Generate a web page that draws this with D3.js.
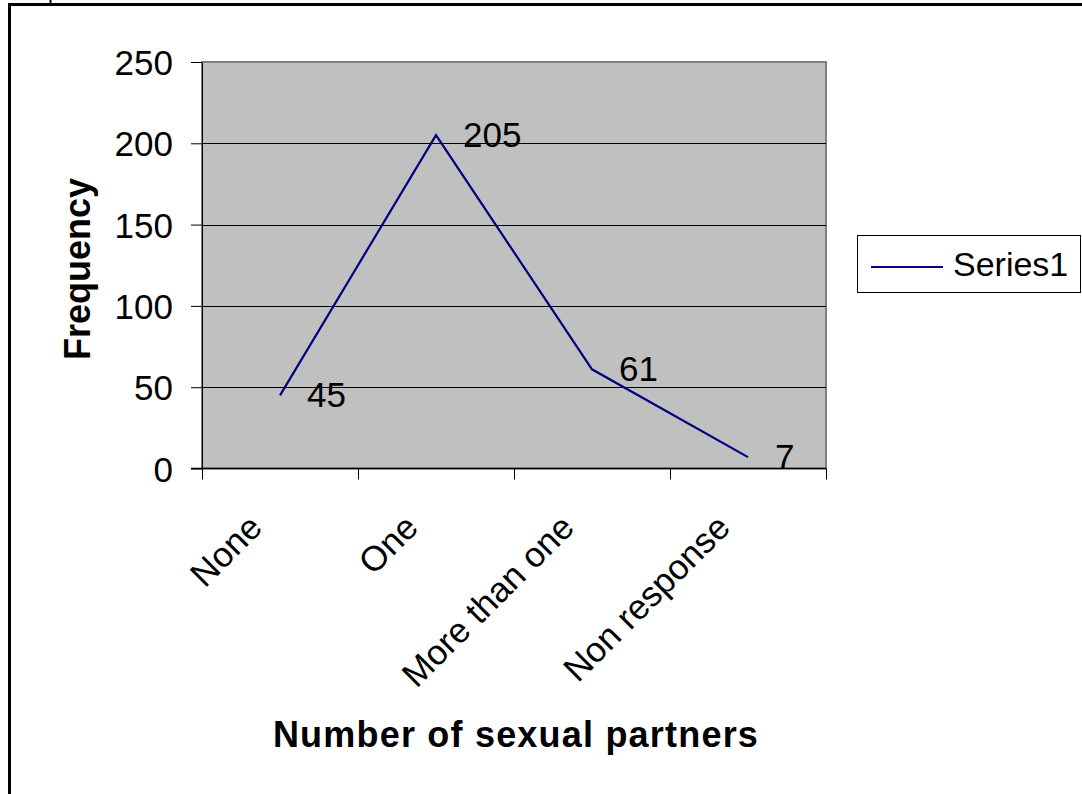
<!DOCTYPE html>
<html>
<head>
<meta charset="utf-8">
<script src="https://cdn.jsdelivr.net/npm/d3@7"></script>
<style>
  html, body { margin: 0; padding: 0; background: #fff; }
  svg { display: block; }
  text { font-family: "Liberation Sans", Arial, sans-serif; fill: #000; }
</style>
</head>
<body>
<svg id="chart" width="1082" height="794"></svg>
<script>
// Number of sexual partners reported by respondents
const categories = ["None", "One", "More than one", "Non response"];
const frequency = [45, 205, 61, 7];
const yTicks = [0, 50, 100, 150, 200, 250];
const seriesName = "Series1";
const xTitle = "Number of sexual partners";
const yTitle = "Frequency";

const svg = d3.select("#chart");

// Plot rectangle
const plot = { left: 202, right: 826, top: 62, bottom: 468.5 };

const x = d3.scaleBand().domain(categories).range([plot.left, plot.right]).padding(0);
const y = d3.scaleLinear().domain([0, 250]).range([plot.bottom, plot.top]);

// Outer chart frame (top and left edges)
svg.append("line").attr("x1", 8).attr("x2", 1082).attr("y1", 4.5).attr("y2", 4.5)
  .attr("stroke", "#000").attr("stroke-width", 3);
svg.append("line").attr("x1", 9.5).attr("x2", 9.5).attr("y1", 3).attr("y2", 794)
  .attr("stroke", "#000").attr("stroke-width", 3);
svg.append("line").attr("x1", 50.5).attr("x2", 50.5).attr("y1", 0).attr("y2", 4)
  .attr("stroke", "#000").attr("stroke-width", 2);

// Plot area background
svg.append("rect")
  .attr("x", plot.left).attr("y", plot.top)
  .attr("width", plot.right - plot.left).attr("height", plot.bottom - plot.top)
  .attr("fill", "#c0c0c0").attr("stroke", "#808080").attr("stroke-width", 2);

// Horizontal gridlines
svg.append("g").selectAll("line")
  .data(yTicks.filter(d => d > 0 && d < 250))
  .join("line")
  .attr("x1", plot.left).attr("x2", plot.right)
  .attr("y1", d => Math.round(y(d)) + 0.5).attr("y2", d => Math.round(y(d)) + 0.5)
  .attr("stroke", "#000").attr("stroke-width", 1);

// Y axis
const yAxis = svg.append("g")
  .attr("transform", `translate(${plot.left},0)`)
  .call(d3.axisLeft(y).tickValues(yTicks).tickSize(11).tickPadding(18).tickSizeOuter(0));
yAxis.select(".domain").attr("stroke", "#000");
yAxis.selectAll(".tick line").attr("stroke", "#000");
yAxis.selectAll(".tick text")
  .style("font-family", '"Liberation Sans", Arial, sans-serif')
  .style("font-size", "35px").attr("fill", "#000").attr("dy", "0.36em");

// X axis baseline with ticks at category boundaries
const xAxis = svg.append("g");
xAxis.append("line")
  .attr("x1", plot.left - 11).attr("x2", plot.right)
  .attr("y1", plot.bottom).attr("y2", plot.bottom)
  .attr("stroke", "#000").attr("stroke-width", 1.5);
const bounds = categories.map(c => x(c)).concat([x(categories[categories.length - 1]) + x.bandwidth()]);
xAxis.selectAll("line.tick")
  .data(bounds)
  .join("line").attr("class", "tick")
  .attr("x1", d => Math.round(d) + 0.5).attr("x2", d => Math.round(d) + 0.5)
  .attr("y1", plot.bottom).attr("y2", plot.bottom + 11)
  .attr("stroke", "#000").attr("stroke-width", 1);

// Rotated category labels
xAxis.selectAll("text.cat")
  .data(categories)
  .join("text").attr("class", "cat")
  .attr("transform", d => `translate(${x(d) + x.bandwidth() / 2 - 16},${plot.bottom + 61}) rotate(-45)`)
  .attr("text-anchor", "end")
  .style("font-size", "35px")
  .text(d => d);

// Series line
const pts = categories.map((c, i) => ({ c, v: frequency[i] }));
svg.append("path")
  .datum(pts)
  .attr("fill", "none")
  .attr("stroke", "#000080")
  .attr("stroke-width", 2.2)
  .attr("d", d3.line().x(d => x(d.c) + x.bandwidth() / 2).y(d => y(d.v)));

// Value labels
svg.append("g").selectAll("text")
  .data(pts)
  .join("text")
  .attr("x", d => x(d.c) + x.bandwidth() / 2 + 27)
  .attr("y", d => y(d.v) - 1)
  .attr("dy", "0.36em")
  .style("font-size", "35px")
  .text(d => d.v);

// Axis titles
svg.append("text")
  .attr("x", 516).attr("y", 747)
  .attr("text-anchor", "middle")
  .style("font-size", "36px").style("font-weight", "bold").style("letter-spacing", "1.2px")
  .text(xTitle);
svg.append("text")
  .attr("transform", "translate(90,269) rotate(-90)")
  .attr("text-anchor", "middle")
  .style("font-size", "36px").style("font-weight", "bold")
  .text(yTitle);

// Legend
const legend = svg.append("g");
legend.append("rect")
  .attr("x", 857.5).attr("y", 235.5).attr("width", 223).attr("height", 57)
  .attr("fill", "#fff").attr("stroke", "#000").attr("stroke-width", 1);
legend.append("line")
  .attr("x1", 871).attr("x2", 943).attr("y1", 267).attr("y2", 267)
  .attr("stroke", "#000080").attr("stroke-width", 2.2);
legend.append("text")
  .attr("x", 953).attr("y", 276)
  .style("font-size", "34px")
  .text(seriesName);
</script>
</body>
</html>
